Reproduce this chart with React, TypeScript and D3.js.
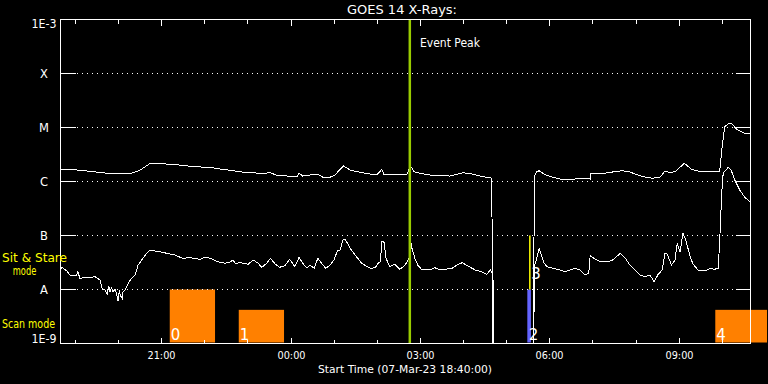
import React from "react";
import * as d3 from "d3";

const START = new Date(2023, 2, 7, 18, 40);
const END = new Date(2023, 2, 8, 10, 40);

// GOES 14 long channel (1-8 A), minutes since start / flux W m^-2
const longMinutes = [0, 13, 24, 45, 59, 73, 97, 101, 111, 125, 145, 148, 170, 183, 208, 222, 240, 260, 282, 292, 301, 329, 332, 337, 347, 358, 365, 375, 382, 386, 394, 403, 413, 424, 440, 447, 450, 468, 482, 487, 492, 500, 514, 542, 560, 572, 588, 600, 603, 658, 659, 662, 666, 673, 684, 695, 716, 723, 737, 738, 751, 765, 781, 792, 810, 824, 834, 841, 848, 855, 868, 878, 890, 915, 917, 920, 924, 930, 934, 942, 952, 959];
const longFlux = [1.68e-6, 1.68e-6, 1.63e-6, 1.52e-6, 1.455e-6, 1.38e-6, 1.38e-6, 1.455e-6, 1.63e-6, 2.17e-6, 2.17e-6, 2.08e-6, 2.0e-6, 1.88e-6, 1.83e-6, 1.7e-6, 1.585e-6, 1.455e-6, 1.42e-6, 1.455e-6, 1.3e-6, 1.23e-6, 1.42e-6, 1.26e-6, 1.32e-6, 1.36e-6, 1.2e-6, 1.2e-6, 1.32e-6, 1.52e-6, 1.94e-6, 1.63e-6, 1.52e-6, 1.42e-6, 1.32e-6, 1.68e-6, 1.36e-6, 1.32e-6, 1.36e-6, 1.94e-6, 1.52e-6, 1.42e-6, 1.32e-6, 1.26e-6, 1.455e-6, 1.38e-6, 1.23e-6, 1.15e-6, 1e-12, 1e-12, 1.23e-6, 1.5e-6, 1.585e-6, 1.36e-6, 1.21e-6, 1.11e-6, 1.11e-6, 1.16e-6, 1.11e-6, 1.42e-6, 1.38e-6, 1.48e-6, 1.585e-6, 1.5e-6, 1.23e-6, 1.15e-6, 1.2e-6, 1.56e-6, 1.455e-6, 1.52e-6, 2.17e-6, 1.68e-6, 1.52e-6, 1.52e-6, 1.5e-6, 3.8e-6, 1.03e-5, 1.2e-5, 1.16e-5, 9.0e-6, 7.8e-6, 7.6e-6];

// GOES 14 short channel (0.5-4 A)
const shortMinutes = [0, 3, 9, 13, 22, 24, 27, 34, 41, 48, 55, 58, 62, 65, 67, 69, 71, 73, 76, 79, 80, 82, 83, 86, 87, 90, 97, 104, 108, 113, 120, 125, 131, 138, 148, 159, 170, 180, 194, 201, 208, 219, 229, 236, 240, 243, 250, 261, 268, 275, 280, 287, 292, 299, 305, 312, 319, 326, 332, 337, 343, 347, 353, 358, 364, 369, 375, 381, 385, 389, 393, 396, 403, 410, 419, 431, 438, 442, 445, 447, 450, 453, 458, 465, 472, 478, 481, 485, 487, 489, 493, 497, 503, 507, 514, 521, 528, 538, 545, 553, 559, 566, 577, 588, 593, 598, 600, 602, 603, 658, 659, 662, 666, 673, 677, 684, 695, 702, 709, 716, 723, 730, 735, 737, 739, 744, 751, 758, 767, 779, 786, 792, 799, 806, 813, 820, 826, 831, 837, 841, 844, 850, 855, 858, 862, 866, 870, 876, 880, 887, 897, 904, 910, 915, 917, 920, 922, 929, 933, 938, 945, 952, 959];
const shortFlux = [2.47e-8, 2.53e-8, 2.2e-8, 1.86e-8, 1.8e-8, 2.14e-8, 1.61e-8, 1.66e-8, 1.66e-8, 1.73e-8, 1.5e-8, 1.05e-8, 9.8e-9, 8.3e-9, 1.16e-8, 9.1e-9, 1.07e-8, 9.0e-9, 1.02e-8, 7.4e-9, 6.1e-9, 9.8e-9, 7.9e-9, 6.7e-9, 9.0e-9, 9.8e-9, 1.5e-8, 1.86e-8, 2.84e-8, 3.52e-8, 4.68e-8, 5.39e-8, 5.16e-8, 5.01e-8, 4.68e-8, 4.35e-8, 3.78e-8, 3.88e-8, 3.62e-8, 4.0e-8, 3.78e-8, 3.27e-8, 3.06e-8, 3.23e-8, 3.5e-8, 3.06e-8, 3.13e-8, 2.93e-8, 3.52e-8, 3.06e-8, 2.58e-8, 3.06e-8, 3.78e-8, 2.93e-8, 2.58e-8, 2.76e-8, 3.62e-8, 2.64e-8, 3.95e-8, 3.06e-8, 2.47e-8, 2.84e-8, 2.47e-8, 3.78e-8, 2.97e-8, 2.47e-8, 2.84e-8, 3.62e-8, 5.16e-8, 5.39e-8, 8.25e-8, 8.6e-8, 5.79e-8, 4.35e-8, 3.06e-8, 2.47e-8, 2.53e-8, 3.06e-8, 3.23e-8, 7.68e-8, 7.58e-8, 3.78e-8, 2.64e-8, 2.97e-8, 2.37e-8, 2.72e-8, 3.06e-8, 3.78e-8, 8.25e-8, 5.79e-8, 3.78e-8, 2.84e-8, 2.3e-8, 2.4e-8, 2.3e-8, 2.53e-8, 2.3e-8, 2.4e-8, 2.47e-8, 2.93e-8, 3.13e-8, 2.76e-8, 2.3e-8, 2.08e-8, 1.91e-8, 2.3e-8, 2.14e-8, 1.39e-8, 1e-12, 1e-12, 2.64e-8, 3.5e-8, 5.79e-8, 3.06e-8, 2.64e-8, 2.5e-8, 2.3e-8, 2.14e-8, 2.3e-8, 2.47e-8, 2.3e-8, 1.86e-8, 2.0e-8, 4.35e-8, 4.05e-8, 3.62e-8, 3.27e-8, 3.27e-8, 3.41e-8, 4.68e-8, 3.78e-8, 2.84e-8, 2.3e-8, 1.86e-8, 1.73e-8, 1.86e-8, 1.39e-8, 1.86e-8, 2.3e-8, 4.68e-8, 4.54e-8, 2.84e-8, 3.52e-8, 7.17e-8, 5.01e-8, 1.1e-7, 8.25e-8, 4.05e-8, 2.97e-8, 2.3e-8, 2.23e-8, 2.47e-8, 2.37e-8, 2.47e-8, 7.17e-8, 6.12e-7, 1.42e-6, 1.83e-6, 1.63e-6, 1.07e-6, 6.96e-7, 5.1e-7, 4.23e-7];

// Y axis levels and labels
const levelValues = [1e-9, 1e-8, 1e-7, 1e-6, 1e-5, 1e-4, 1e-3];
const levelLabels = ["1E-9", "A", "B", "C", "M", "X", "1E-3"];

// Scan-mode intervals (minutes since start), bar top level, label
const scanStart = [152, 248, 911];
const scanEnd = [215, 311, 983];
const scanTop = [1e-8, 4.2e-9, 4.2e-9];
const scanLabels = ["0", "1", "4"];

// Sit & stare
const stareStart = [649.5];
const stareEnd = [654.5];
const stareTop = [1e-8];
const stareLabels = ["2"];
const stareLineMin = [653];
const stareLineLabels = ["3"];

const eventPeakMin = 486;

const FONT = "DejaVu Sans";

export default function App() {
  const W = 768, H = 384;
  const L = 60.5, R = 750.5, T = 19.5, B = 343.5;
  const x = d3.scaleTime().domain([START, END]).range([L, R]);
  const y = d3.scaleLog().domain([1e-9, 1e-3]).range([B, T]);
  const t = (m: number) => new Date(START.getTime() + m * 60000);
  const line = d3
    .line<[number, number]>()
    .x((d) => x(t(d[0])))
    .y((d) => y(d[1]));
  const longPts = longMinutes.map((m, i) => [m, longFlux[i]] as [number, number]);
  const shortPts = shortMinutes.map((m, i) => [m, shortFlux[i]] as [number, number]);
  const hours = d3.timeHour.range(START, END);

  return (
    <svg
      width={W}
      height={H}
      style={{ position: "fixed", left: 0, top: 0, background: "#000" }}
      fontFamily={FONT}
    >
      <rect x={0} y={0} width={W} height={H} fill="#000" />
      <defs>
        <clipPath id="plot">
          <rect x={L} y={T} width={R - L} height={B - T} />
        </clipPath>
      </defs>

      {/* scan mode bars */}
      {scanStart.map((s, i) => (
        <rect
          key={"sc" + i}
          x={x(t(s))}
          y={y(scanTop[i])}
          width={x(t(scanEnd[i])) - x(t(s))}
          height={B - 1 - y(scanTop[i])}
          fill="#ff8000"
        />
      ))}
      {stareStart.map((s, i) => (
        <rect
          key={"st" + i}
          x={x(t(s))}
          y={y(stareTop[i])}
          width={x(t(stareEnd[i])) - x(t(s))}
          height={B - 1 - y(stareTop[i])}
          fill="#6464ff"
        />
      ))}
      {stareLineMin.map((m, i) => (
        <line
          key={"sl" + i}
          x1={x(t(m))}
          x2={x(t(m))}
          y1={y(1e-7)}
          y2={y(1e-8)}
          stroke="#ffff00"
          strokeWidth={1.5}
        />
      ))}

      {/* gridlines */}
      {levelValues.slice(1, -1).map((v, i) => (
        <g key={"g" + i} shapeRendering="crispEdges">
          <line x1={L + 16} x2={R - 15} y1={y(v)} y2={y(v)} stroke="#fff" strokeDasharray="1 4" />
          <line x1={L} x2={L + 15} y1={y(v)} y2={y(v)} stroke="#fff" />
          <line x1={R - 15} x2={R} y1={y(v)} y2={y(v)} stroke="#fff" />
        </g>
      ))}

      {/* curves */}
      <g clipPath="url(#plot)" fill="none" stroke="#fff" strokeWidth={1} shapeRendering="crispEdges">
        <path d={line(longPts) || ""} />
        <path d={line(shortPts) || ""} />
      </g>

      {/* event peak */}
      <line
        x1={x(t(eventPeakMin))}
        x2={x(t(eventPeakMin))}
        y1={T}
        y2={B}
        stroke="#99cc00"
        strokeWidth={2.5}
      />
      <text x={420} y={47} fill="#fff" fontSize={11.5} textLength={60} lengthAdjust="spacingAndGlyphs">
        Event Peak
      </text>

      {/* frame */}
      <rect x={L} y={T} width={R - L} height={B - T} fill="none" stroke="#fff" shapeRendering="crispEdges" />

      {/* time ticks */}
      {hours.map((h, i) => {
        const major = h.getHours() % 3 === 0;
        const len = major ? 6 : 4;
        const xx = Math.round(x(h)) + 0.5;
        return (
          <g key={"h" + i}>
            <line x1={xx} x2={xx} y1={B} y2={B - len} stroke="#fff" shapeRendering="crispEdges" />
            <line x1={xx} x2={xx} y1={T} y2={T + len} stroke="#fff" shapeRendering="crispEdges" />
            {major && (
              <text
                x={xx}
                y={359}
                fill="#fff"
                fontSize={10.5}
                textAnchor="middle"
                textLength={28}
                lengthAdjust="spacingAndGlyphs"
              >
                {d3.timeFormat("%H:%M")(h)}
              </text>
            )}
          </g>
        );
      })}

      {/* y labels */}
      {levelValues.map((v, i) => {
        const lab = levelLabels[i];
        const isNum = lab.length > 1;
        let yy = y(v) + 4.5;
        if (i === 0) yy = B - 0.5;
        if (i === levelValues.length - 1) yy = 27.5;
        return (
          <text
            key={"yl" + i}
            x={44}
            y={yy}
            fill="#fff"
            fontSize={11.5}
            textAnchor="middle"
            {...(isNum ? { textLength: 25, lengthAdjust: "spacingAndGlyphs" } : {})}
          >
            {lab}
          </text>
        );
      })}

      {/* bar labels */}
      {scanStart.map((s, i) => (
        <text key={"sl" + i} x={x(t(s)) + 1} y={340} fill="#fff" fontSize={15}>
          {scanLabels[i]}
        </text>
      ))}
      {stareStart.map((s, i) => (
        <text key={"stl" + i} x={x(t(s)) + 1.5} y={340} fill="#fff" fontSize={15}>
          {stareLabels[i]}
        </text>
      ))}
      {stareLineMin.map((m, i) => (
        <text key={"sll" + i} x={x(t(m)) + 1.5} y={278.5} fill="#fff" fontSize={15}>
          {stareLineLabels[i]}
        </text>
      ))}

      {/* titles */}
      <text x={402} y={14} fill="#fff" fontSize={12} textAnchor="middle" textLength={110} lengthAdjust="spacingAndGlyphs">
        GOES 14 X-Rays:
      </text>
      <text x={405} y={373} fill="#fff" fontSize={11} textAnchor="middle" textLength={174} lengthAdjust="spacingAndGlyphs">
        Start Time (07-Mar-23 18:40:00)
      </text>

      {/* mode labels */}
      <text x={2} y={262} fill="#ffff00" fontSize={12} textLength={65} lengthAdjust="spacingAndGlyphs">
        Sit &amp; Stare
      </text>
      <text x={24.5} y={275} fill="#ffff00" fontSize={12} textAnchor="middle" textLength={23.5} lengthAdjust="spacingAndGlyphs">
        mode
      </text>
      <text x={2} y={327.5} fill="#ffff00" fontSize={12} textLength={53} lengthAdjust="spacingAndGlyphs">
        Scan mode
      </text>
    </svg>
  );
}
